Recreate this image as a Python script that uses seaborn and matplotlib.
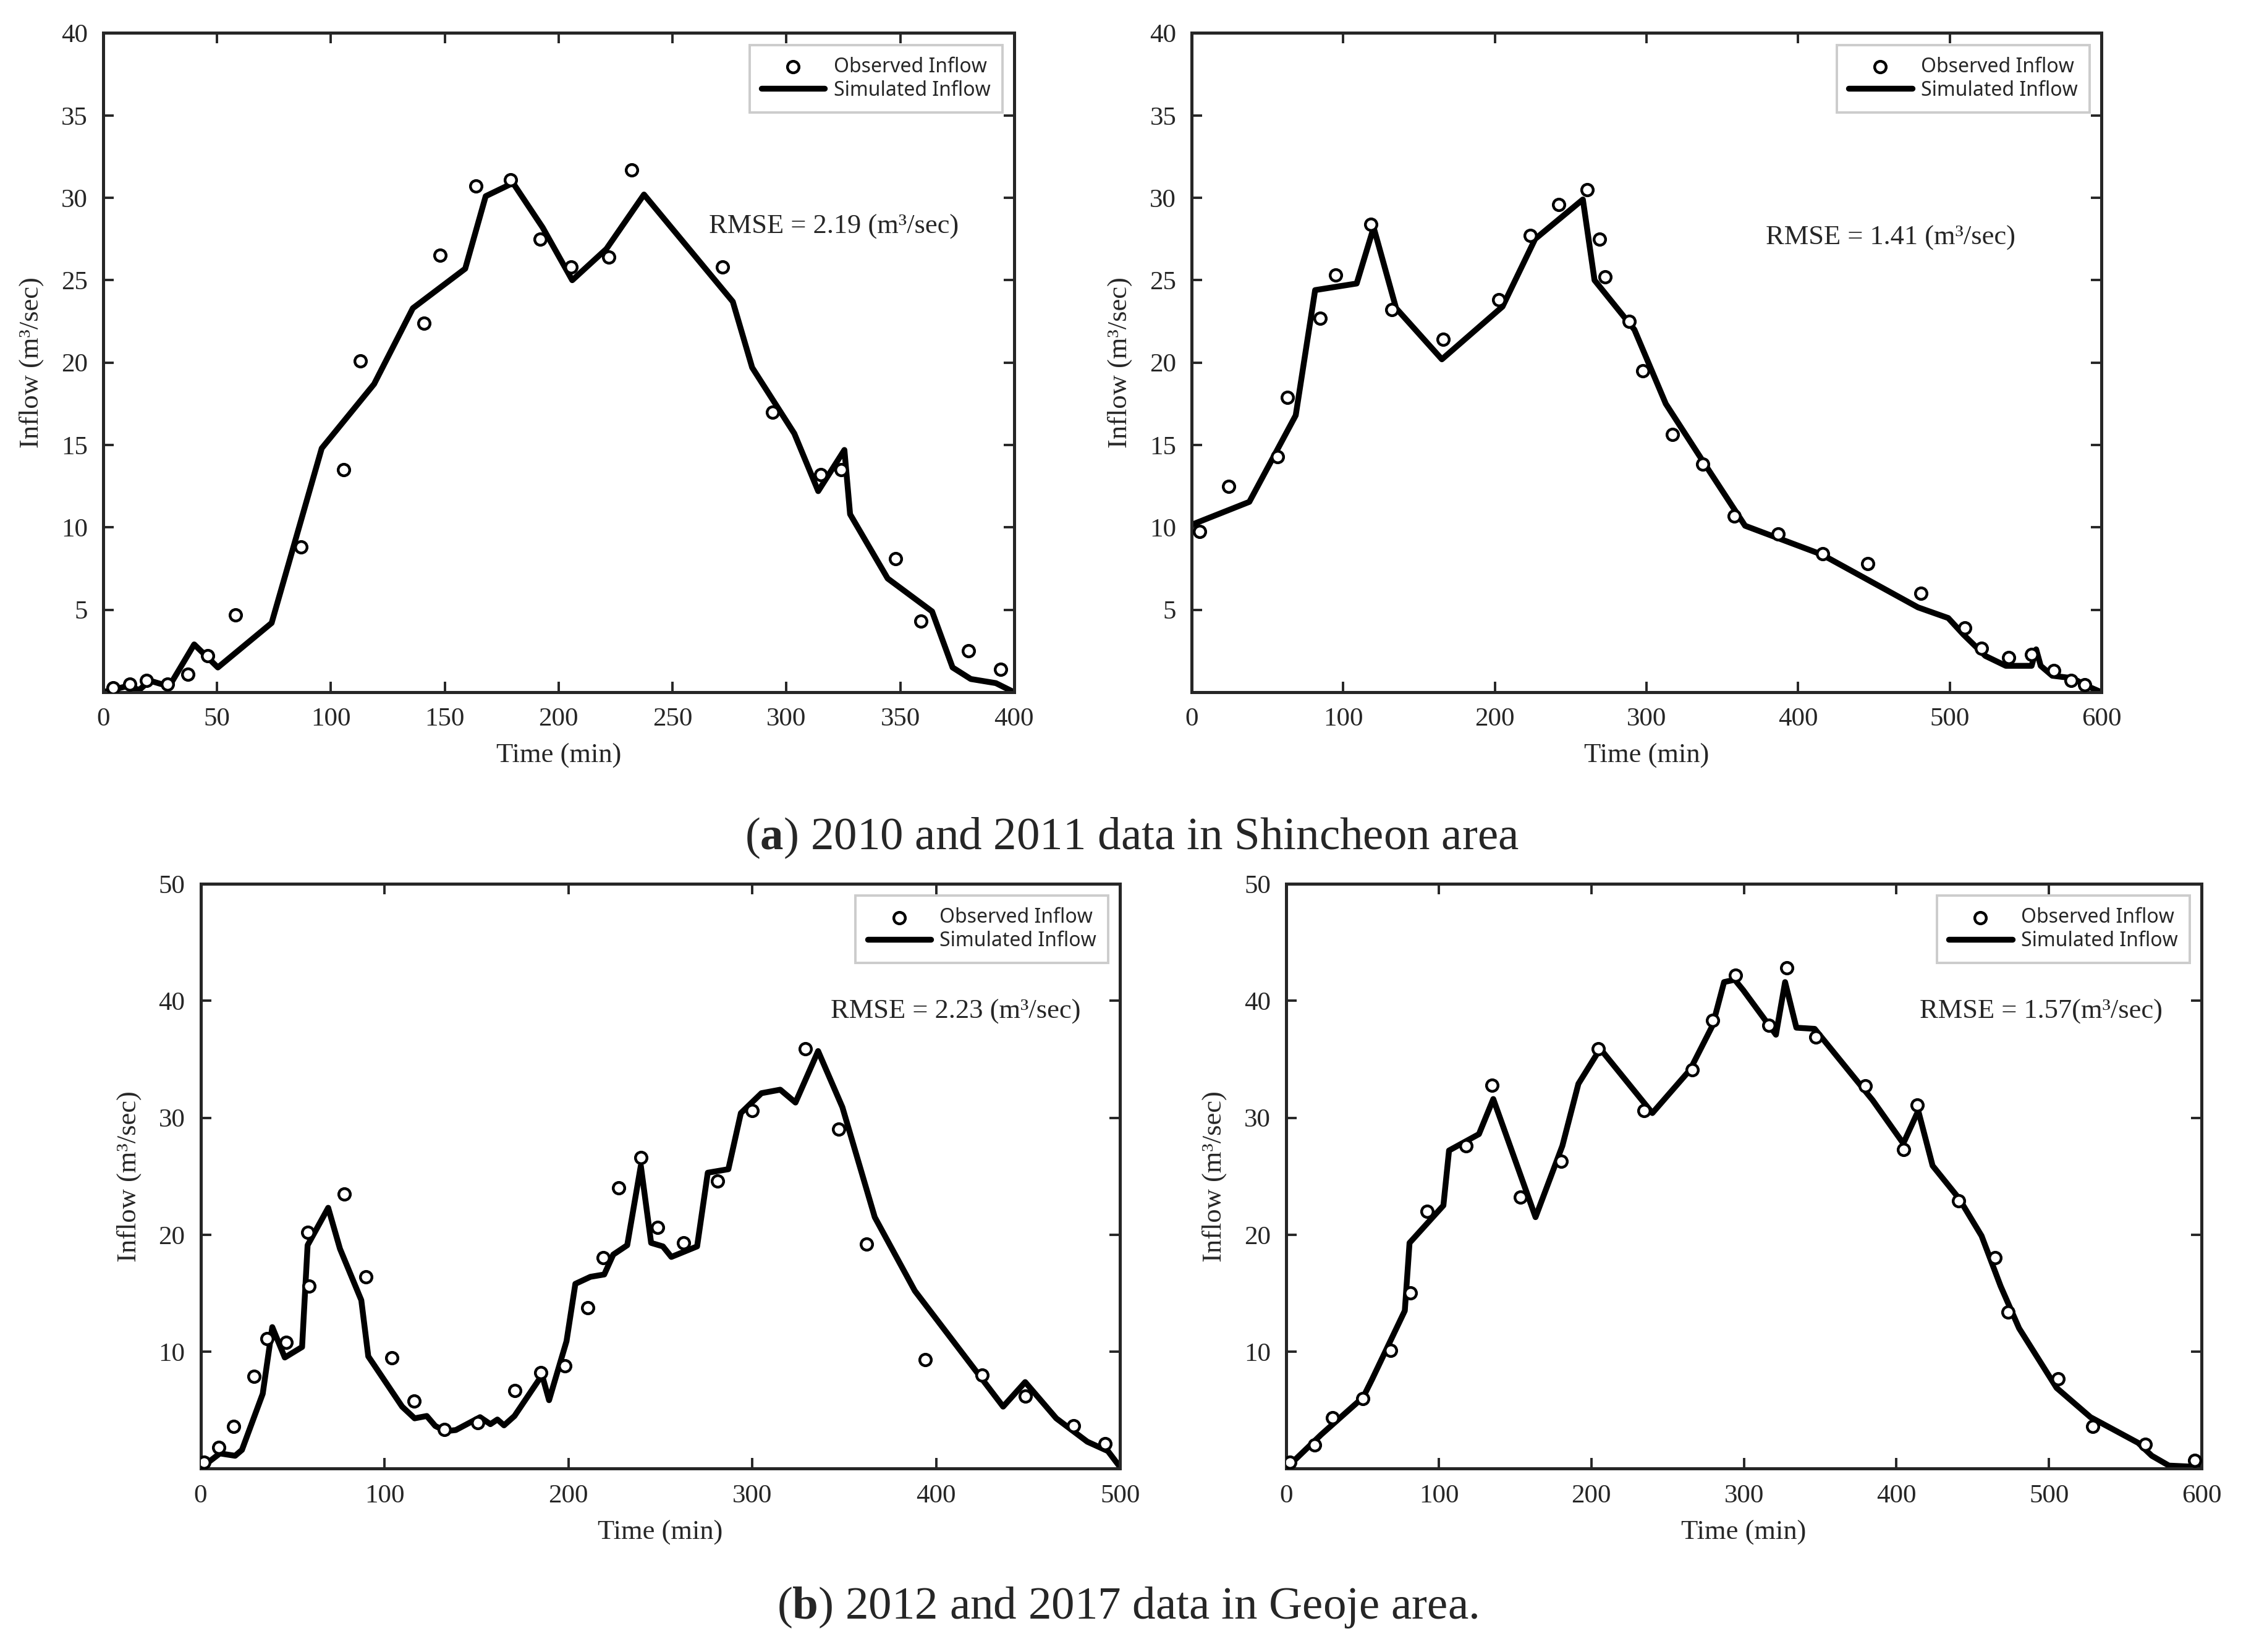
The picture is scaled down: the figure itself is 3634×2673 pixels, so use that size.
import pandas as pd
import matplotlib
matplotlib.use('Agg')
import matplotlib.pyplot as plt
import seaborn as sns

# (a) left: 2010 Shincheon
t_2010_obs = [4.4, 11.7, 19, 28.4, 37.2, 46, 58, 87, 105.6, 113, 141, 148, 163.6, 179, 192,
              205.6, 222, 232, 272, 294, 315, 324, 348, 359, 380, 394]
q_2010_obs = [0.25, 0.5, 0.7, 0.5, 1.1, 2.2, 4.7, 8.8, 13.5, 20.1, 22.4, 26.5, 30.7, 31.1, 27.5,
              25.8, 26.4, 31.7, 25.8, 17.0, 13.2, 13.5, 8.1, 4.3, 2.5, 1.4]
t_2010_sim = [0, 10, 16, 20.5, 29, 40, 50.4, 74, 96, 119, 136, 159, 168, 180, 193, 206, 221,
              237.5, 276.5, 285, 303.5, 314, 325.5, 328, 344.5, 364, 373, 381, 392, 400]
q_2010_sim = [0, 0.35, 0.15, 0.7, 0.35, 2.9, 1.5, 4.2, 14.8, 18.7, 23.3, 25.7, 30.1, 30.9, 28.2,
              25.0, 26.9, 30.2, 23.7, 19.7, 15.7, 12.2, 14.7, 10.8, 6.9, 4.9, 1.5, 0.8, 0.55, 0]

# (a) right: 2011 Shincheon
t_2011_obs = [5.4, 24.5, 56.4, 63.2, 84.8, 95, 118, 132, 165.7, 202.5, 223.5, 242, 260.8, 269,
              272.5, 288.7, 297.5, 317, 337, 358, 387, 416, 446, 481, 510, 521, 539, 554,
              568.6, 580, 589]
q_2011_obs = [9.75, 12.5, 14.3, 17.9, 22.7, 25.3, 28.4, 23.2, 21.4, 23.8, 27.7, 29.6, 30.5, 27.5,
              25.2, 22.5, 19.5, 15.65, 13.85, 10.7, 9.6, 8.4, 7.8, 6.0, 3.9, 2.65, 2.1, 2.3,
              1.3, 0.7, 0.45]
t_2011_sim = [1, 38, 68.6, 81.4, 108.8, 120, 134.8, 165, 205, 226.5, 258, 265.7, 292, 312.7,
              338, 365, 415.7, 479, 499, 509, 523.5, 537, 554, 557, 560, 567.6, 581, 590.7, 600]
q_2011_sim = [10.2, 11.55, 16.8, 24.4, 24.8, 28.2, 23.3, 20.2, 23.4, 27.5, 29.9, 25.0, 22.0,
              17.5, 13.9, 10.1, 8.35, 5.15, 4.5, 3.5, 2.2, 1.6, 1.6, 2.6, 1.6, 1.0, 0.85, 0.37, 0]

# (b) left: 2012 Geoje
t_2012_obs = [1.9, 9.8, 18, 29, 36, 46.5, 58.2, 59, 78, 90, 104, 116, 132.5, 150.8, 171, 185,
              198, 210.5, 218.8, 227.4, 239.4, 248.4, 262.7, 281, 300, 329, 347, 362, 394,
              424.8, 448.4, 474.7, 492]
q_2012_obs = [0.56, 1.8, 3.6, 7.9, 11.1, 10.8, 20.2, 15.6, 23.5, 16.4, 9.5, 5.8, 3.35, 3.95,
              6.7, 8.2, 8.8, 13.75, 18.05, 24.0, 26.6, 20.6, 19.3, 24.6, 30.6, 35.9, 29.05,
              19.2, 9.3, 8.0, 6.2, 3.65, 2.15]
t_2012_sim = [0.75, 10.5, 18.8, 22.5, 33.8, 39, 45.8, 55.2, 58.2, 69.4, 75.8, 87.4, 91.2, 109.6,
              116.4, 123, 127.6, 133.2, 138.8, 152, 157.6, 161.4, 165, 170.7, 185.7, 189.5, 199,
              203.8, 212, 219.5, 224.4, 232, 239.4, 245, 251.4, 256, 270, 275.8, 287, 293.8,
              305, 315.2, 323.5, 335.8, 349, 366.6, 388.4, 436.4, 448.4, 465.3, 482.2, 493.4, 500]
q_2012_sim = [0.13, 1.3, 1.1, 1.6, 6.4, 12.1, 9.5, 10.4, 19.1, 22.3, 18.8, 14.4, 9.6, 5.3, 4.3,
              4.5, 3.65, 3.2, 3.3, 4.4, 3.8, 4.2, 3.7, 4.5, 8.0, 5.85, 10.9, 15.8, 16.4, 16.6,
              18.3, 19.1, 25.9, 19.3, 19.0, 18.1, 19.0, 25.3, 25.6, 30.4, 32.1, 32.4, 31.3,
              35.7, 30.9, 21.5, 15.2, 5.3, 7.4, 4.3, 2.3, 1.5, 0.13]

# (b) right: 2017 Geoje
t_2017_obs = [2.2, 18.75, 30.4, 50, 68.3, 81.3, 92.4, 117.9, 134.8, 153.6, 180.4, 204.5, 234.4,
              266, 279.5, 294.6, 316.5, 328, 347.3, 379.5, 404.5, 413.8, 440.6, 464.7, 473.2,
              505.8, 528.6, 563, 595.5]
q_2017_obs = [0.56, 2.0, 4.35, 6.0, 10.1, 15.0, 22.0, 27.6, 32.8, 23.2, 26.3, 35.9, 30.6, 34.1,
              38.3, 42.2, 37.9, 42.8, 36.9, 32.7, 27.3, 31.1, 22.9, 18.05, 13.4, 7.7, 3.6, 2.1,
              0.7]
t_2017_sim = [1.3, 22.8, 50.4, 56.3, 77.7, 80.8, 103, 106.7, 126.3, 135.7, 163.4, 181, 191.5,
              205.8, 240, 264.7, 279.5, 287, 294, 299.6, 316.5, 321, 327, 334.4, 346.4, 384.4,
              404.5, 414.3, 423.7, 441, 455.8, 468.3, 480.4, 505, 527.2, 558.5, 567.4, 578.6, 600]
q_2017_sim = [0.2, 2.9, 6.1, 7.65, 13.5, 19.3, 22.5, 27.2, 28.6, 31.6, 21.5, 27.6, 32.9, 35.9,
              30.4, 34.1, 37.9, 41.6, 41.8, 40.9, 37.9, 37.1, 41.6, 37.7, 37.6, 31.5, 27.8, 30.6,
              25.9, 23.1, 19.9, 15.6, 12.0, 6.9, 4.4, 2.2, 1.1, 0.26, 0.13]

rmse_labels = ['RMSE = 2.19 (m³/sec)', 'RMSE = 1.41 (m³/sec)',
               'RMSE = 2.23 (m³/sec)', 'RMSE = 1.57(m³/sec)']

sns.set_style('ticks')
plt.rcParams['font.family'] = ['Liberation Serif', 'DejaVu Serif']
plt.rcParams['mathtext.fontset'] = 'custom'
plt.rcParams['mathtext.rm'] = 'Liberation Serif'
plt.rcParams['mathtext.bf'] = 'Liberation Serif:bold'

fig = plt.figure(figsize=(18.17, 13.365), dpi=200)


def draw_panel(rect, t_obs, q_obs, t_sim, q_sim, xmax, xstep, ymax, yticks, rmse, rmse_pos):
    ax = fig.add_axes(rect)
    obs = pd.DataFrame({'t': t_obs, 'q': q_obs})
    sim = pd.DataFrame({'t': t_sim, 'q': q_sim})
    sns.lineplot(data=sim, x='t', y='q', ax=ax, color='black', linewidth=3.4,
                 estimator=None, sort=False, label='Simulated Inflow', zorder=2)
    sns.scatterplot(data=obs, x='t', y='q', ax=ax, marker='o', s=45, facecolor='white',
                    edgecolor='black', linewidth=1.6, label='Observed Inflow', zorder=3)
    ax.set_xlim(0, xmax)
    ax.set_ylim(0, ymax)
    ax.set_xticks(range(0, xmax + 1, xstep))
    ax.set_yticks(yticks)
    ax.tick_params(direction='in', length=6, width=1.4, labelsize=15.5, pad=9,
                   top=True, right=True)
    for sp in ax.spines.values():
        sp.set_linewidth(1.8)
        sp.set_visible(True)
    ax.set_xlabel('Time (min)', fontsize=16, labelpad=7)
    ax.set_ylabel('Inflow (m³/sec)', fontsize=16, labelpad=10)
    ax.text(rmse_pos[0], rmse_pos[1], rmse, transform=ax.transAxes, fontsize=16,
            ha='left', va='center')
    h, l = ax.get_legend_handles_labels()
    leg = ax.legend(h[::-1], l[::-1], loc='upper right', frameon=True,
                    fancybox=False, framealpha=1, edgecolor='#cccccc', handlelength=3.2,
                    handletextpad=0.45, borderaxespad=0.6, borderpad=0.6, labelspacing=0.15,
                    prop={'family': 'Noto Sans', 'size': 11.5})
    leg.get_frame().set_linewidth(1.4)
    return ax


draw_panel([0.0459, 0.581, 0.4056, 0.399], t_2010_obs, q_2010_obs, t_2010_sim, q_2010_sim,
           400, 50, 40, range(5, 41, 5), rmse_labels[0], (0.665, 0.7065))
draw_panel([0.5306, 0.581, 0.405, 0.399], t_2011_obs, q_2011_obs, t_2011_sim, q_2011_sim,
           600, 100, 40, range(5, 41, 5), rmse_labels[1], (0.631, 0.689))
draw_panel([0.0893, 0.111, 0.4094, 0.354], t_2012_obs, q_2012_obs, t_2012_sim, q_2012_sim,
           500, 100, 50, range(10, 51, 10), rmse_labels[2], (0.685, 0.782))
draw_panel([0.5727, 0.111, 0.4075, 0.354], t_2017_obs, q_2017_obs, t_2017_sim, q_2017_sim,
           600, 100, 50, range(10, 51, 10), rmse_labels[3], (0.692, 0.782))

fig.text(0.504, 0.4926, r'($\mathbf{a}$) 2010 and 2011 data in Shincheon area',
         ha='center', va='center', fontsize=27)
fig.text(0.502, 0.027, r'($\mathbf{b}$) 2012 and 2017 data in Geoje area.',
         ha='center', va='center', fontsize=27)

fig.savefig('out.png', dpi=200)
plt.close(fig)
